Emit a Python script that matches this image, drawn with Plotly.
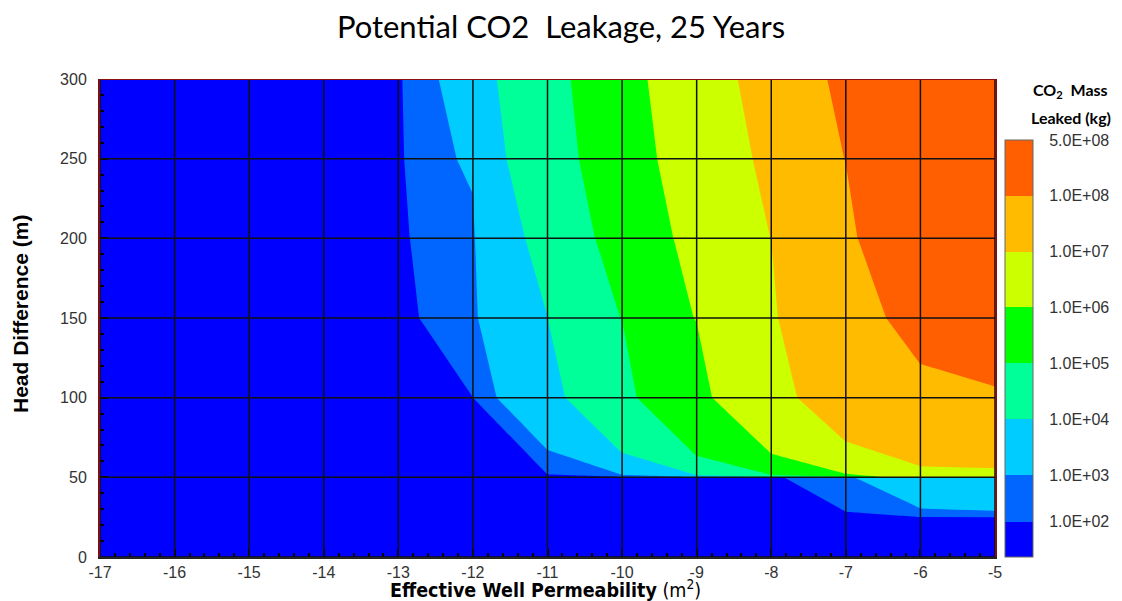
import plotly.graph_objects as go

# ---------------- data ----------------
perm = [-17, -16, -15, -14, -13, -12, -11, -10, -9, -8, -7, -6, -5]   # log10 k (m^2)

# upper zone (head difference >= 50 m), CO2 mass leaked (kg)
head_upper = [50, 100, 150, 200, 250, 300]
mass_upper = [
    [0, 0, 0, 0, 0, 0, 0, 0, 0, 0, 0, 1.86e6, 1.5e6],
    [0, 0, 0, 0, 0, 98, 2917, 32430, 3.70e5, 3.37e6, 2.23e7, 6.0e7, 7.56e7],
    [0, 0, 0, 0, 0, 357, 9900, 1.02e5, 1.037e6, 7.5e6, 3.5e7, 1.55e8, 2.5e8],
    [0, 0, 0, 0, 0, 643, 14000, 1.485e5, 1.383e6, 1.01e7, 7.0e7, 2.575e8, 3.6e8],
    [0, 0, 0, 0, 0, 1280, 20660, 2.096e5, 1.891e6, 1.27e7, 1.02e8, 2.8e8, 3.8e8],
    [0, 0, 0, 0, 0, 1850, 27320, 2.618e5, 2.433e6, 1.619e7, 1.279e8, 3.0e8, 4.5e8],
]

# lower zone (head difference <= 50 m)
head_lower = [0, 25, 50]
mass_lower = [
    [0, 0, 0, 0, 0, 0, 0, 0, 0, 0, 0, 0, 0],
    [0, 0, 0, 0, 0, 0, 0, 0, 0, 0, 23, 95, 98],
    [0, 0, 0, 0, 0, 0, 0, 0, 0, 0, 590, 4209, 5735],
]

levels = [1e2, 1e3, 1e4, 1e5, 1e6, 1e7, 1e8]
level_colors = ['#0066FF', '#00CCFF', '#00FF99', '#00FF00', '#CCFF00', '#FFBB00', '#FF5F00']
base_color = '#0000FF'

cbar_labels = ['1.0E+02', '1.0E+03', '1.0E+04', '1.0E+05', '1.0E+06', '1.0E+07', '1.0E+08', '5.0E+08']
cbar_bounds = [0, 0.63, 1.47, 2.47, 3.47, 4.47, 5.47, 6.47, 7.47]

x_ticks = [-17, -16, -15, -14, -13, -12, -11, -10, -9, -8, -7, -6, -5]
y_ticks = [0, 50, 100, 150, 200, 250, 300]

# ---------------- figure ----------------
fig = go.Figure()

for heads, mass in [(head_lower, mass_lower), (head_upper, mass_upper)]:
    zmax = max(max(r) for r in mass)
    for lev, col in zip(levels, level_colors):
        if lev >= zmax:
            continue
        fig.add_trace(go.Contour(
            x=perm, y=heads, z=mass,
            contours=dict(type='constraint', operation='<', value=lev),
            fillcolor=col,
            line=dict(width=0, smoothing=0),
            showscale=False, hoverinfo='skip', showlegend=False,
        ))

# colour bar (legend of contour levels)
band_colors = [base_color] + level_colors
span = cbar_bounds[-1] - cbar_bounds[0]
cscale = []
for i, c in enumerate(band_colors):
    cscale.append([(cbar_bounds[i] - cbar_bounds[0]) / span, c])
    cscale.append([(cbar_bounds[i + 1] - cbar_bounds[0]) / span, c])

fig.add_trace(go.Scatter(
    x=[None], y=[None], mode='markers', showlegend=False, hoverinfo='skip',
    marker=dict(
        color=[cbar_bounds[0]], colorscale=cscale,
        cmin=cbar_bounds[0], cmax=cbar_bounds[-1], showscale=True,
        colorbar=dict(
            tickvals=cbar_bounds[1:], ticktext=cbar_labels,
            thickness=28, thicknessmode='pixels',
            len=417, lenmode='pixels',
            x=1.0112, xanchor='left', y=0, yanchor='bottom',
            xpad=0, ypad=0,
            outlinewidth=1, outlinecolor='#666666',
            ticks='outside', ticklen=13, tickcolor='rgba(0,0,0,0)',
            tickfont=dict(family='Liberation Sans, Arial, sans-serif', size=16, color='#333333'),
        ),
    ),
))

# grid lines drawn above the contour fills
shapes = []
for xv in x_ticks:
    shapes.append(dict(type='line', xref='x', yref='y', x0=xv, x1=xv, y0=y_ticks[0], y1=y_ticks[-1],
                       line=dict(color='#111111', width=1.5), layer='above'))
for yv in y_ticks:
    shapes.append(dict(type='line', xref='x', yref='y', x0=x_ticks[0], x1=x_ticks[-1], y0=yv, y1=yv,
                       line=dict(color='#111111', width=1.5), layer='above'))
shapes.append(dict(type='line', xref='x', yref='y', x0=x_ticks[0], x1=x_ticks[-1], y0=y_ticks[-1], y1=y_ticks[-1],
                   line=dict(color='#8a1010', width=2), layer='above'))

tick_font = dict(family='Liberation Sans, Arial, sans-serif', size=16, color='#333333')

fig.update_layout(
    width=1122, height=601,
    margin=dict(l=100, r=127, t=79, b=44),
    font=dict(family='Liberation Sans, Arial, sans-serif'),
    paper_bgcolor='white', plot_bgcolor=base_color,
    title=dict(text='Potential CO2  Leakage, 25 Years', x=0.5, xanchor='center',
               y=1 - 27 / 601, yanchor='middle',
               font=dict(family='Lato', size=31, color='black')),
    xaxis=dict(range=[x_ticks[0], x_ticks[-1]], tickvals=x_ticks, ticktext=[str(v) for v in x_ticks],
               showgrid=False, zeroline=False, showline=True, linecolor='#222222', linewidth=2,
               ticks='inside', ticklen=8, tickwidth=2, tickcolor='black',
               minor=dict(dtick=0.2, ticks='inside', ticklen=4, tickcolor='black', showgrid=False),
               tickfont=tick_font, ticklabelstandoff=0),
    yaxis=dict(range=[y_ticks[0], y_ticks[-1]], tickvals=y_ticks,
               showgrid=False, zeroline=False, showline=True, linecolor='#7a1010', linewidth=2, mirror=True,
               ticks='inside', ticklen=8, tickwidth=2, tickcolor='black',
               minor=dict(dtick=10, ticks='inside', ticklen=4, tickcolor='black', showgrid=False),
               tickfont=tick_font, ticklabelstandoff=8),
    shapes=shapes,
    annotations=[
        dict(text='<b>Head Difference (m)</b>', textangle=-90, xref='paper', yref='paper',
             x=(20 - 100) / 895, y=(557 - 314) / 478, xanchor='center', yanchor='middle', showarrow=False,
             font=dict(family='Liberation Sans', size=21, color='black')),
        dict(text='<b>Effective Well Permeability</b> (m<sup>2</sup>)', xref='paper', yref='paper',
             x=(545 - 100) / 895, y=(557 - 589) / 478, xanchor='center', yanchor='middle', showarrow=False,
             font=dict(family='DejaVu Sans Condensed', size=19.5, color='black')),
        dict(text='<b>CO<sub>2</sub>  Mass</b>', xref='paper', yref='paper',
             x=(1070 - 100) / 895, y=(557 - 91) / 478, xanchor='center', yanchor='middle', showarrow=False,
             font=dict(family='Lato', size=16, color='black')),
        dict(text='<b>Leaked (kg)</b>', xref='paper', yref='paper',
             x=(1071 - 100) / 895, y=(557 - 117) / 478, xanchor='center', yanchor='middle', showarrow=False,
             font=dict(family='Lato', size=16, color='black')),
    ],
)

fig.write_html('out.html')
